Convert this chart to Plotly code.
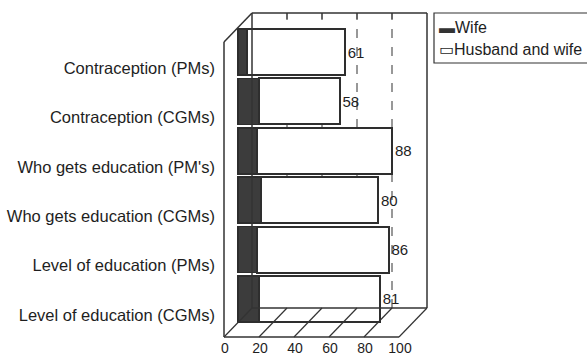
import plotly.graph_objects as go

categories = [
    "Contraception (PMs)",
    "Contraception (CGMs)",
    "Who gets education (PM's)",
    "Who gets education (CGMs)",
    "Level of education (PMs)",
    "Level of education (CGMs)",
]
wife = [5, 12, 11, 13, 11, 12]
husband_and_wife = [56, 46, 77, 67, 75, 69]
totals = [61, 58, 88, 80, 86, 81]
x_ticks = [0, 20, 40, 60, 80, 100]
series_names = ["Wife", "Husband and wife"]

FONT = "Liberation Sans, Arial, sans-serif"
INK = "#1e1e1e"
W, H = 587, 356
ML, MR, MT, MB = 221, 158, 13, 19
PW, PH = W - ML - MR, H - MT - MB
S = 1.75                      # px per axis unit
X_LO = -(238 - ML) / S
X_HI = PW / S + X_LO


def px_x(p):
    return (p - ML) / PW


def px_y(p):
    return (H - MB - p) / PH


fig = go.Figure()
fig.add_trace(go.Bar(
    y=categories, x=wife, orientation="h", name=series_names[0],
    marker=dict(color="#3c3c3c", line=dict(color="#2e2e2e", width=1.5)),
))
fig.add_trace(go.Bar(
    y=categories, x=husband_and_wife, orientation="h", name=series_names[1],
    marker=dict(color="white", line=dict(color="#2e2e2e", width=2)),
    customdata=totals, texttemplate="%{customdata}", textposition="outside",
    textfont=dict(family=FONT, size=15, color=INK), cliponaxis=False,
))

# 3D frame decoration (depth offset in axis units)
d = 8.0
yb = px_y(308)   # back floor level
yf = px_y(42)    # front top-left corner
line = dict(color="#333", width=1.5)
shapes = []
shapes.append(dict(type="line", xref="x", yref="paper", x0=-d, x1=-d, y0=0, y1=yf, line=line))
shapes.append(dict(type="line", xref="x", yref="paper", x0=-d, x1=d, y0=yf, y1=1, line=line))
shapes.append(dict(type="line", xref="x", yref="paper", x0=d, x1=100 + d, y0=1, y1=1, line=line))
shapes.append(dict(type="line", xref="x", yref="paper", x0=100 + d, x1=100 + d, y0=yb, y1=1, line=line))
shapes.append(dict(type="line", xref="x", yref="paper", x0=-d, x1=100 - d, y0=0, y1=0, line=line))
shapes.append(dict(type="line", xref="x", yref="paper", x0=d, x1=100 + d, y0=yb, y1=yb, line=line))
shapes.append(dict(type="line", xref="x", yref="paper", x0=d, x1=d, y0=yb, y1=1, line=line))
for v in x_ticks:
    shapes.append(dict(type="line", xref="x", yref="paper", x0=v - d, x1=v + d, y0=0, y1=yb,
                       line=dict(color="#333", width=1.2)))
for v in x_ticks[1:-1]:
    shapes.append(dict(type="line", xref="x", yref="paper", x0=v + d, x1=v + d, y0=1, y1=px_y(19),
                       line=dict(color="#333", width=1.5)))
    shapes.append(dict(type="line", xref="x", yref="paper", x0=v + d, x1=v + d, y0=yb, y1=px_y(19),
                       layer="below", line=dict(color="#777", width=1.5, dash="dash")))

# legend box with its entries as text
shapes.append(dict(type="rect", xref="paper", yref="paper", x0=px_x(434), x1=px_x(600),
                   y0=px_y(63), y1=px_y(13), line=dict(color="#333", width=1.2),
                   fillcolor="white"))
annotations = [
    dict(xref="paper", yref="paper", x=px_x(438), y=px_y(28), xanchor="left", yanchor="middle",
         align="left", showarrow=False, borderpad=0,
         text="<span style='color:#333'>\u25ac</span>" + series_names[0],
         font=dict(family=FONT, size=16, color=INK)),
    dict(xref="paper", yref="paper", x=px_x(438), y=px_y(50), xanchor="left", yanchor="middle",
         align="left", showarrow=False, borderpad=0,
         text="\u25ad" + series_names[1],
         font=dict(family=FONT, size=16, color=INK)),
]

fig.update_layout(
    width=W, height=H,
    margin=dict(l=ML, r=MR, t=MT, b=MB, autoexpand=False),
    barmode="stack", bargap=0.07,
    plot_bgcolor="white", paper_bgcolor="white",
    font=dict(family=FONT, size=14, color=INK),
    shapes=shapes, annotations=annotations,
    showlegend=False,
)
fig.update_xaxes(range=[X_LO, X_HI], tickvals=x_ticks, showgrid=False, zeroline=False,
                 showline=False, ticks="", ticklabelshift=-13, ticklabelstandoff=1,
                 tickfont=dict(family=FONT, size=14, color=INK))
fig.update_yaxes(categoryorder="array", categoryarray=categories, range=[5.77, -0.79],
                 showgrid=False, zeroline=False, showline=False, ticks="",
                 ticklabelshift=-16, ticklabelstandoff=5,
                 tickfont=dict(family=FONT, size=16.5, color=INK))

fig.write_html("out.html", config={"displayModeBar": False},
               post_script="document.body.style.margin='0';")
